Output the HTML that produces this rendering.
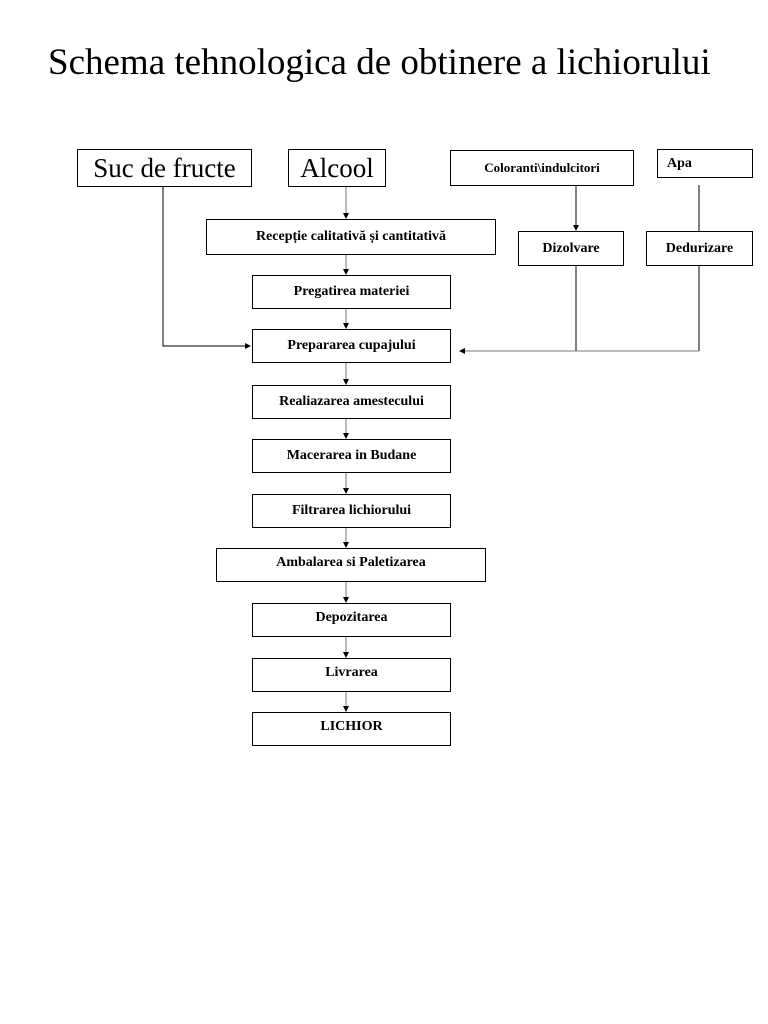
<!DOCTYPE html>
<html><head><meta charset="utf-8"><style>
body{margin:0;width:768px;height:1024px;background:#fff;position:relative;overflow:hidden;font-family:"Liberation Serif",serif;}
.t{position:absolute;left:48px;top:41px;font-size:37px;color:#000;white-space:nowrap;}
.b{position:absolute;border:1px solid #000;box-sizing:border-box;display:flex;align-items:center;justify-content:center;font-size:14px;font-weight:bold;white-space:nowrap;background:#fff;}
.big{font-size:27px;font-weight:normal;}
svg{position:absolute;left:0;top:0;}
</style></head><body>
<div class="t">Schema tehnologica de obtinere a lichiorului</div>
<svg width="768" height="1024">
<defs><marker id="a" markerWidth="6" markerHeight="6" refX="5" refY="3" orient="auto"><path d="M0,0L6,3L0,6z" fill="#000"/></marker></defs>
<g stroke="#777" stroke-width="1" fill="none">
<line x1="346" y1="186" x2="346" y2="218" marker-end="url(#a)"/>
<line x1="346" y1="254" x2="346" y2="274" marker-end="url(#a)"/>
<line x1="346" y1="308" x2="346" y2="328" marker-end="url(#a)"/>
<line x1="346" y1="362" x2="346" y2="384" marker-end="url(#a)"/>
<line x1="346" y1="418" x2="346" y2="438" marker-end="url(#a)"/>
<line x1="346" y1="472" x2="346" y2="493" marker-end="url(#a)"/>
<line x1="346" y1="527" x2="346" y2="547" marker-end="url(#a)"/>
<line x1="346" y1="581" x2="346" y2="602" marker-end="url(#a)"/>
<line x1="346" y1="636" x2="346" y2="657" marker-end="url(#a)"/>
<line x1="346" y1="691" x2="346" y2="711" marker-end="url(#a)"/>
<polyline points="163,186 163,346 250,346" stroke="#000" marker-end="url(#a)"/>
<line x1="576" y1="185" x2="576" y2="230" stroke="#000" marker-end="url(#a)"/>
<line x1="576" y1="265" x2="576" y2="351" stroke="#000"/>
<line x1="699" y1="185" x2="699" y2="351" stroke="#000"/>
<line x1="699" y1="351" x2="460" y2="351" marker-end="url(#a)"/>
</g></svg>
<div class="b big" style="left:77px;top:149px;width:175px;height:38px">Suc de fructe</div>
<div class="b big" style="left:288px;top:149px;width:98px;height:38px">Alcool</div>
<div class="b" style="left:450px;top:150px;width:184px;height:36px;font-size:13px">Coloranti\indulcitori</div>
<div class="b" style="left:657px;top:149px;width:96px;height:29px;justify-content:flex-start;padding-left:9px;align-items:flex-start;padding-top:6px">Apa</div>
<div class="b" style="left:206px;top:219px;width:290px;height:36px">Recepție calitativă și cantitativă</div>
<div class="b" style="left:518px;top:231px;width:106px;height:35px">Dizolvare</div>
<div class="b" style="left:646px;top:231px;width:107px;height:35px">Dedurizare</div>
<div class="b" style="left:252px;top:275px;width:199px;height:34px">Pregatirea materiei</div>
<div class="b" style="left:252px;top:329px;width:199px;height:34px">Prepararea cupajului</div>
<div class="b" style="left:252px;top:385px;width:199px;height:34px">Realiazarea amestecului</div>
<div class="b" style="left:252px;top:439px;width:199px;height:34px">Macerarea in Budane</div>
<div class="b" style="left:252px;top:494px;width:199px;height:34px">Filtrarea lichiorului</div>
<div class="b" style="left:216px;top:548px;width:270px;height:34px;align-items:flex-start;padding-top:6px">Ambalarea si Paletizarea</div>
<div class="b" style="left:252px;top:603px;width:199px;height:34px;align-items:flex-start;padding-top:6px">Depozitarea</div>
<div class="b" style="left:252px;top:658px;width:199px;height:34px;align-items:flex-start;padding-top:6px">Livrarea</div>
<div class="b" style="left:252px;top:712px;width:199px;height:34px;align-items:flex-start;padding-top:6px">LICHIOR</div>
</body></html>
